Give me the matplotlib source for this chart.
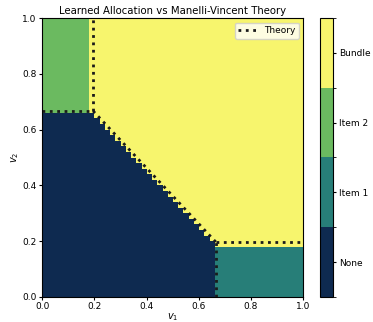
import matplotlib
matplotlib.use('Agg')
import matplotlib.pyplot as plt
from matplotlib.colors import ListedColormap, BoundaryNorm
import numpy as np

# learned mechanism (grid of 50 x 50 cells)
n_cells = 50
learned_item_price = 0.66      # single item sold above this value
learned_cross_cut = 0.18       # other value must stay below this
learned_bundle_price = 0.85    # bundle sold when v1 + v2 above this

# Manelli-Vincent theory for two uniform items
p_item = 2 / 3
p_bundle = (4 - np.sqrt(2)) / 3
cut = p_bundle - p_item

class_names = ["None", "Item 1", "Item 2", "Bundle"]
class_colors = ["#0e2a50", "#277e78", "#6bba60", "#f7f56d"]

# build the allocation grid
c = (np.arange(n_cells) + 0.5) / n_cells
V1, V2 = np.meshgrid(c, c)
alloc = np.zeros((n_cells, n_cells))
alloc[V1 + V2 > learned_bundle_price] = 3
alloc[(V1 > learned_item_price) & (V2 < learned_cross_cut)] = 1
alloc[(V2 > learned_item_price) & (V1 < learned_cross_cut)] = 2

cmap = ListedColormap(class_colors)
norm = BoundaryNorm([-0.5, 0.5, 1.5, 2.5, 3.5], cmap.N)

fig = plt.figure(figsize=(3.73, 3.22), dpi=100)
ax = fig.add_axes([0.113, 0.078, 0.70, 0.866])
cax = fig.add_axes([0.858, 0.078, 0.035, 0.866])

im = ax.imshow(alloc, origin='lower', extent=[0, 1, 0, 1], cmap=cmap, norm=norm,
               aspect='auto', interpolation='nearest')

# theory boundaries
kw = dict(color='#1a1a1a', linestyle=':', linewidth=2)
ax.plot([cut, cut], [p_item, 1], label='Theory', **kw)
ax.plot([0, cut], [p_item, p_item], **kw)
ax.plot([cut, p_item], [p_item, cut], **kw)
ax.plot([p_item, p_item], [0, cut], **kw)
ax.plot([p_item, 1], [cut, cut], **kw)

ax.set_xlim(0, 1)
ax.set_ylim(0, 1)
ax.set_xlabel(r'$v_1$', fontsize=7, labelpad=0)
ax.set_ylabel(r'$v_2$', fontsize=7, labelpad=1)
ax.set_title('Learned Allocation vs Manelli-Vincent Theory', fontsize=7.3, pad=3)
ax.tick_params(labelsize=6.5, length=2.5, pad=1.5)
ax.legend(loc='upper right', fontsize=6.5, handlelength=2, borderpad=0.4)

cb = fig.colorbar(im, cax=cax, ticks=[0, 1, 2, 3])
cb.ax.set_yticklabels(class_names)
cb.ax.tick_params(labelsize=6.5, length=2.5, pad=1.5)

fig.savefig('out.png', dpi=100)
